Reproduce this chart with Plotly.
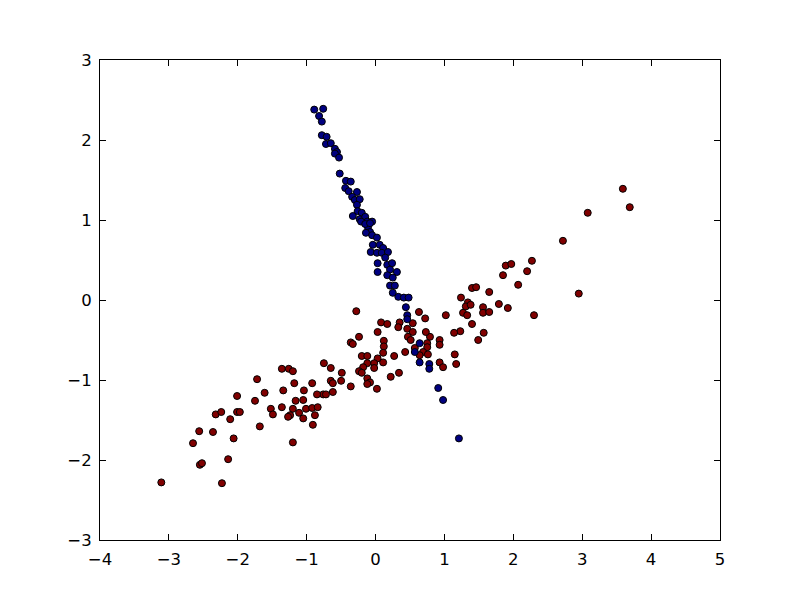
import plotly.graph_objects as go

# blue group (steep band)
blue_x = [-0.89, -0.76, -0.82, -0.78, -0.78, -0.71, -0.72, -0.65, -0.59, -0.56,
          -0.59, -0.53, -0.52, -0.43, -0.36, -0.44, -0.39, -0.27, -0.34, -0.30,
          -0.23, -0.27, -0.26, -0.33, -0.20, -0.23, -0.15, -0.12, -0.05, -0.11,
          -0.08, -0.21, -0.15, -0.08, -0.14, -0.05, 0.02, -0.04, 0.06, 0.11,
          -0.07, 0.02, 0.09, 0.18, 0.14, 0.03, 0.17, 0.24, 0.21, 0.31,
          0.03, 0.17, 0.25, 0.21, 0.28, 0.25, 0.33, 0.41, 0.48, 0.44,
          0.46, 0.46, 0.64, 0.57, 0.64, 0.78, 0.78, 0.91, 0.98, 1.21]
blue_y = [2.38, 2.39, 2.30, 2.23, 2.06, 2.04, 1.95, 1.96, 1.89, 1.85,
          1.83, 1.78, 1.58, 1.49, 1.48, 1.40, 1.36, 1.35, 1.29, 1.25,
          1.26, 1.19, 1.11, 1.05, 1.09, 1.01, 1.04, 0.98, 0.98, 0.91,
          0.85, 0.98, 0.95, 0.96, 0.84, 0.81, 0.78, 0.69, 0.69, 0.65,
          0.60, 0.59, 0.59, 0.60, 0.53, 0.46, 0.44, 0.46, 0.38, 0.35,
          0.35, 0.31, 0.28, 0.18, 0.18, 0.09, 0.04, 0.03, 0.03, -0.09,
          -0.19, -0.24, -0.54, -0.65, -0.78, -0.80, -0.86, -1.10, -1.25, -1.73]

# red group (shallow band)
red_x = [-1.72, -1.61, -2.01, -1.75, -2.32, -2.24, -2.01, -1.97, -2.11, -1.52,
         -1.49, -1.68, -2.56, -2.36, -2.06, -2.65, -1.20, -2.14, -2.55, -2.52,
         -3.11, -2.23,
         -1.36, -1.26, -1.20, -1.18, -1.34, -1.16, -1.36, -1.20, -1.11, -1.24,
         -1.27,
         -0.28, -0.24, -0.36, -0.33, -0.20, -0.12, 0.03, -0.12, -0.02, -0.02,
         -0.18, -0.24, -0.20, -0.12, -0.08, -0.12, 0.02, -0.75, -0.65, -0.49,
         -0.50, -0.65, -0.62, -0.36, -0.92, -1.04, -0.62, -0.76, -0.85, -0.72,
         -1.05, -1.01, -0.92, -0.84, -0.88, -1.05, -0.91,
         0.08, 0.17, 0.03, 0.12, 0.12, 1.40, 1.46, 1.65, 2.07, 1.24,
         1.34, 1.31, 1.38, 1.56, 1.79, 1.92, 1.27, 1.33, 1.56, 1.65,
         1.02, 0.63, 0.72, 1.40, 1.23, 1.14, 1.57, 1.49, 0.93, 0.93,
         0.79, 0.73, 0.54, 0.35, 0.33, 0.46, 0.54, 0.47, 0.51, 0.75,
         0.75, 0.69, 0.57, 0.64, 0.76, 0.43, 0.27, 0.11, 0.11, 1.15,
         1.17, 0.93, 0.98, 0.34, 0.22,
         3.59, 3.69, 3.08, 2.72, 2.27, 1.89, 1.97, 2.20, 1.85, 2.95,
         2.30]
red_y = [-0.99, -1.16, -1.20, -1.26, -1.43, -1.40, -1.40, -1.40, -1.49, -1.36,
         -1.43, -1.58, -1.64, -1.65, -1.73, -1.79, -1.78, -1.99, -2.06, -2.04,
         -2.28, -2.29,
         -0.86, -0.86, -0.89, -1.04, -1.13, -1.26, -1.34, -1.36, -1.41, -1.44,
         -1.46,
         -0.14, -0.46, -0.53, -0.55, -0.70, -0.70, -0.73, -0.79, -0.79, -0.85,
         -0.84, -0.89, -0.91, -0.98, -1.03, -1.05, -1.11, -0.79, -0.85, -0.91,
         -1.01, -1.01, -1.04, -1.08, -1.04, -1.13, -1.15, -1.18, -1.18, -1.18,
         -1.25, -1.36, -1.35, -1.34, -1.44, -1.48, -1.56,
         -0.28, -0.30, -0.40, -0.51, -0.58, 0.15, 0.16, 0.10, 0.19, 0.03,
         -0.03, -0.08, -0.06, -0.09, -0.05, -0.10, -0.16, -0.19, -0.16, -0.15,
         -0.19, -0.15, -0.23, -0.30, -0.39, -0.41, -0.41, -0.50, -0.50, -0.56,
         -0.46, -0.40, -0.29, -0.28, -0.34, -0.36, -0.40, -0.46, -0.50, -0.54,
         -0.59, -0.65, -0.60, -0.69, -0.68, -0.65, -0.70, -0.66, -0.78, -0.68,
         -0.80, -0.78, -0.84, -0.91, -0.96,
         1.39, 1.16, 1.09, 0.74, 0.49, 0.43, 0.45, 0.36, 0.31, 0.08,
         -0.19]

x_ticks = [-4, -3, -2, -1, 0, 1, 2, 3, 4, 5]
y_ticks = [-3, -2, -1, 0, 1, 2, 3]

marker_line = dict(color="black", width=1)

fig = go.Figure()
fig.add_trace(go.Scatter(x=red_x, y=red_y, mode="markers",
                         marker=dict(size=7, color="#800000", line=marker_line)))
fig.add_trace(go.Scatter(x=blue_x, y=blue_y, mode="markers",
                         marker=dict(size=7, color="#000080", line=marker_line)))

axis_style = dict(showgrid=False, zeroline=False, showline=True, linecolor="black",
                  linewidth=1, mirror="allticks", ticks="inside", ticklen=6,
                  tickcolor="black", ticklabelstandoff=4,
                  tickfont=dict(family="DejaVu Sans", size=16.5, color="black"))

fig.update_xaxes(range=[-4, 5], tickvals=x_ticks, **axis_style)
fig.update_yaxes(range=[-3, 3], tickvals=y_ticks, **axis_style)
# page body adds an 8px offset, so margins are shifted to keep the frame at 100..720 x 60..540
fig.update_layout(width=800, height=600, showlegend=False,
                  paper_bgcolor="white", plot_bgcolor="white",
                  margin=dict(l=92, r=88, t=52, b=68))

fig.write_html("out.html")
